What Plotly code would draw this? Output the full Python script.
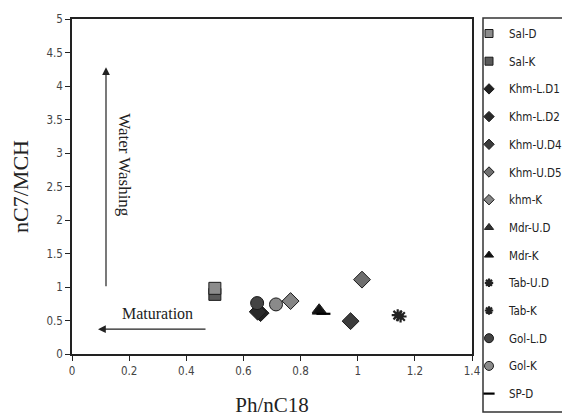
import plotly.graph_objects as go

# ---- data ----
series_names = ["Sal-D", "Sal-K", "Khm-L.D1", "Khm-L.D2", "Khm-U.D4", "Khm-U.D5", "khm-K",
                "Mdr-U.D", "Mdr-K", "Tab-U.D", "Tab-K", "Gol-L.D", "Gol-K", "SP-D"]
ph_nc18 = [0.50, 0.50, 0.66, 0.65, 0.975, 1.015, 0.765, 0.865, 0.865, 1.14, 1.15, 0.648, 0.714, 0.88]
nc7_mch = [0.98, 0.89, 0.61, 0.63, 0.49, 1.11, 0.79, 0.66, 0.64, 0.58, 0.56, 0.76, 0.74, 0.60]

x_ticks = [0, 0.2, 0.4, 0.6, 0.8, 1, 1.2, 1.4]
x_tick_labels = ["0", "0.2", "0.4", "0.6", "0.8", "1", "1.2", "1.4"]
y_ticks = [0, 0.5, 1, 1.5, 2, 2.5, 3, 3.5, 4, 4.5, 5]
y_tick_labels = ["0", "0.5", "1", "1.5", "2", "2.5", "3", "3.5", "4", "4.5", "5"]

# ---- styles ----
symbols = ["square", "square", "diamond", "diamond", "diamond", "diamond", "diamond",
           "triangle-up", "triangle-up", "asterisk-open", "asterisk-open", "circle", "circle", "line-ew-open"]
colors = ["#8c8c8c", "#5a5a5a", "#222222", "#2a2a2a", "#3c3c3c", "#6e6e6e", "#858585",
          "#333333", "#111111", "#222222", "#222222", "#444444", "#8a8a8a", "#000000"]
sizes = [12, 12, 13, 13, 13, 13, 13, 12, 12, 10, 10, 13, 13, 10]
legend_sizes = [8, 8, 8, 8, 8, 8, 8, 8, 8, 7, 7, 9, 9, 8]
# draw order (Sal-D drawn above Sal-K)
draw_order = [1, 0, 2, 3, 4, 5, 6, 7, 8, 9, 10, 11, 12, 13]

serif = "Liberation Serif, Times New Roman, serif"
sans = "Liberation Sans Narrow, DejaVu Sans Condensed, Arial Narrow, sans-serif"


def marker_style(i, size):
    open_sym = symbols[i].endswith("-open")
    return dict(symbol=symbols[i], size=size, color=colors[i],
                line=dict(color=colors[i] if open_sym else "#1a1a1a",
                          width=(2.2 if open_sym else 1)))


fig = go.Figure()
for i in draw_order:
    fig.add_trace(go.Scatter(
        x=[ph_nc18[i]], y=[nc7_mch[i]], mode="markers", name=series_names[i],
        legendgroup=series_names[i], showlegend=False,
        marker=marker_style(i, sizes[i]),
    ))
# legend entries (smaller symbols, as in the original legend)
for i, name in enumerate(series_names):
    fig.add_trace(go.Scatter(
        x=[None], y=[None], mode="markers", name=name,
        legendgroup=name, showlegend=True,
        marker=marker_style(i, legend_sizes[i]),
    ))

# the page adds an 8px body margin, so the figure is 8px smaller than the window
fig.update_layout(
    width=562, height=411,
    margin=dict(l=64, r=98, t=11, b=65, autoexpand=False),
    paper_bgcolor="white", plot_bgcolor="white",
    showlegend=True,
    legend=dict(x=0.9925, xanchor="left", y=1.0, yanchor="top",
                font=dict(family=sans, size=11.5, color="#222"),
                tracegroupgap=8.7, itemwidth=30, borderwidth=0, maxheight=411,
                bgcolor="rgba(0,0,0,0)"),
    xaxis=dict(range=[0, 1.4], tickvals=x_ticks, ticktext=x_tick_labels,
               showgrid=False, zeroline=False, showline=True, linecolor="#222",
               linewidth=1.5, mirror=True, ticks="outside", ticklen=5, tickcolor="#222",
               tickfont=dict(family=sans, size=11.5, color="#444"),
               title=dict(text="Ph/nC18", font=dict(family=serif, size=21, color="#222"), standoff=21)),
    yaxis=dict(range=[0, 5], tickvals=y_ticks, ticktext=y_tick_labels,
               showgrid=False, zeroline=False, showline=True, linecolor="#222",
               linewidth=1.5, mirror=True, ticks="outside", ticklen=5, tickcolor="#222",
               tickfont=dict(family=sans, size=11.5, color="#444"),
               title=dict(text="nC7/MCH", font=dict(family=serif, size=22, color="#222"), standoff=12)),
)

# legend border
fig.add_shape(type="rect", xref="paper", yref="paper",
              x0=1.0275, x1=1.2375, y0=-0.173, y1=1.003,
              line=dict(color="#333", width=1.5), fillcolor="rgba(0,0,0,0)")

# arrows and labels
fig.add_annotation(x=0.119, y=4.28, ax=0.119, ay=0.99, xref="x", yref="y", axref="x", ayref="y",
                   text="", showarrow=True, arrowhead=2, arrowsize=1.3, arrowwidth=1.2, arrowcolor="#222")
fig.add_annotation(x=0.185, y=2.82, xref="x", yref="y", text="Water Washing", showarrow=False,
                   textangle=90, font=dict(family=serif, size=17, color="#222"))
fig.add_annotation(x=0.091, y=0.37, ax=0.4725, ay=0.37, xref="x", yref="y", axref="x", ayref="y",
                   text="", showarrow=True, arrowhead=2, arrowsize=1.3, arrowwidth=1.2, arrowcolor="#222")
fig.add_annotation(x=0.30, y=0.61, xref="x", yref="y", text="Maturation", showarrow=False,
                   font=dict(family=serif, size=16, color="#222"))

fig.write_html("out.html")
